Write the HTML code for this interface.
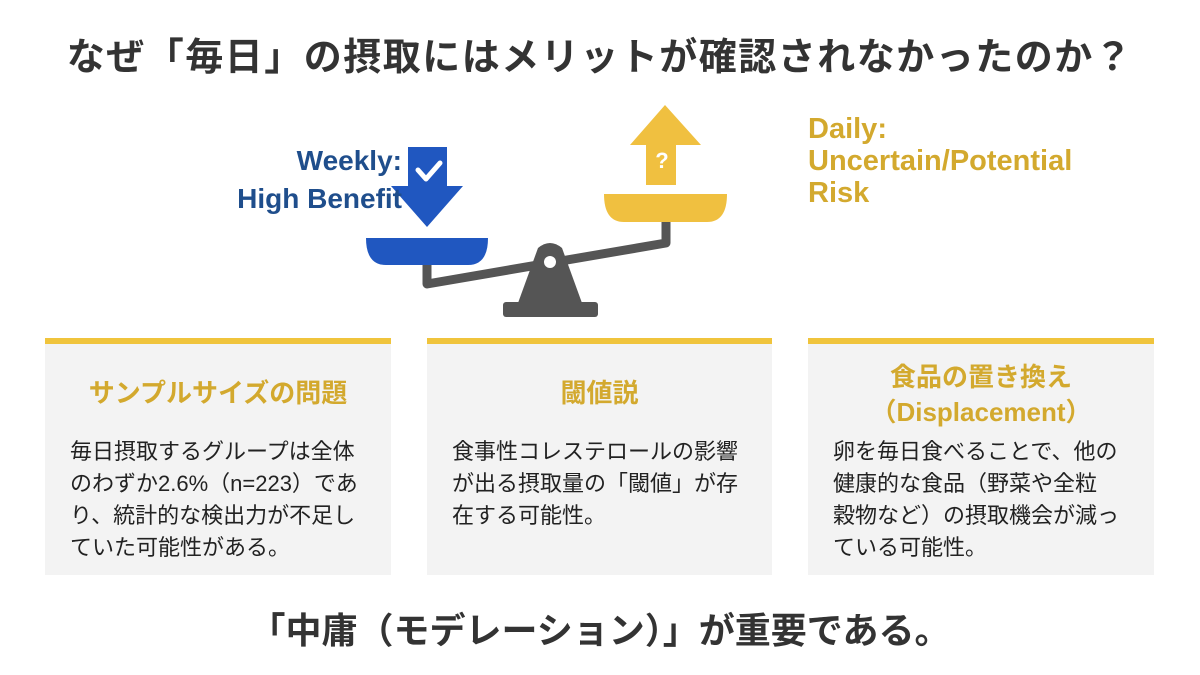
<!DOCTYPE html>
<html><head><meta charset="utf-8"><style>
body{margin:0;width:1200px;height:675px;background:#fff;position:relative;overflow:hidden;font-family:"Liberation Sans","Noto Sans CJK JP",sans-serif;}
.a{position:absolute;}
.title{left:0;width:1200px;top:26px;text-align:center;font-size:38px;font-weight:bold;color:#333;letter-spacing:1.5px;white-space:nowrap;}
.card{position:absolute;top:338px;height:237px;background:#f3f3f3;border-top:6px solid #f0c43c;box-sizing:border-box;}
.ct{position:absolute;left:0;right:0;text-align:center;font-size:26px;font-weight:bold;color:#d3a92e;line-height:35px;white-space:nowrap;}
.cb{position:absolute;left:25px;right:0;font-size:22px;line-height:32px;color:#222;white-space:nowrap;}
.bottom{left:0;width:1200px;top:602px;text-align:center;font-size:36px;font-weight:bold;color:#333;}
.wk{left:150px;width:252px;text-align:right;top:142px;font-size:28px;font-weight:bold;color:#1f4e8c;line-height:38px;}
.dl{left:808px;top:113px;font-size:29px;font-weight:bold;color:#d3a92e;line-height:32px;}
</style></head><body>
<div class="a title">なぜ「毎日」の摂取にはメリットが確認されなかったのか？</div>

<svg class="a" style="left:0;top:0" width="1200" height="340">
  <polyline points="427,265 427,284 666,243 666,220" fill="none" stroke="#555" stroke-width="9" stroke-linejoin="round"/>
  <path d="M538,248 Q550,238 562,248 L582,303 L518,303 Z" fill="#555"/>
  <rect x="503" y="302" width="95" height="15" rx="3" fill="#555"/>
  <circle cx="550" cy="262" r="6" fill="#fff"/>
  <path d="M366,238 L488,238 Q488,265 468,265 L386,265 Q366,265 366,238 Z" fill="#2057c0"/>
  <path d="M408,147 L447,147 L447,186 L463,186 L427,227 L391,186 L408,186 Z" fill="#2057c0"/>
  <polyline points="418,170 426,179 440,163" fill="none" stroke="#fff" stroke-width="5" stroke-linecap="round" stroke-linejoin="round"/>
  <path d="M604,194 L727,194 Q727,222 707,222 L624,222 Q604,222 604,194 Z" fill="#f0c040"/>
  <path d="M665,105 L701,145 L676,145 L676,185 L646,185 L646,145 L630,145 Z" fill="#f0c040"/>
  <text x="662" y="168" font-size="22" font-weight="bold" fill="#fff" text-anchor="middle" font-family="Liberation Sans, sans-serif">?</text>
</svg>

<div class="a wk">Weekly:<br>High Benefit</div>
<div class="a dl">Daily:<br>Uncertain/Potential<br>Risk</div>

<div class="card" style="left:45px;width:346px;">
  <div class="ct" style="top:32px;">サンプルサイズの問題</div>
  <div class="cb" style="top:92px;">毎日摂取するグループは全体<br>のわずか2.6%（n=223）であ<br>り、統計的な検出力が不足し<br>ていた可能性がある。</div>
</div>
<div class="card" style="left:427px;width:345px;">
  <div class="ct" style="top:32px;">閾値説</div>
  <div class="cb" style="top:92px;">食事性コレステロールの影響<br>が出る摂取量の「閾値」が存<br>在する可能性。</div>
</div>
<div class="card" style="left:808px;width:346px;">
  <div class="ct" style="top:16px;">食品の置き換え<br>（Displacement）</div>
  <div class="cb" style="top:92px;">卵を毎日食べることで、他の<br>健康的な食品（野菜や全粒<br>穀物など）の摂取機会が減っ<br>ている可能性。</div>
</div>

<div class="a bottom">「中庸（モデレーション）」が重要である。</div>
</body></html>
